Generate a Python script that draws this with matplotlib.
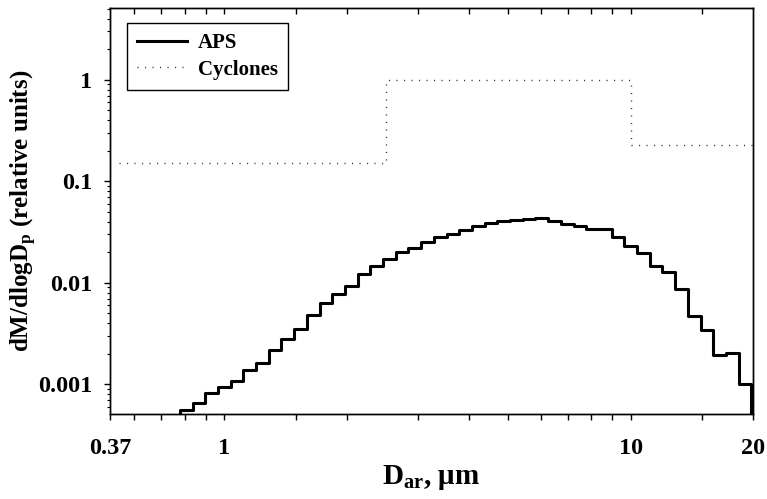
import numpy as np
import matplotlib
matplotlib.use("Agg")
from matplotlib import pyplot as plt
from matplotlib.ticker import FixedLocator, NullFormatter

plt.rcParams['font.family'] = ['Liberation Serif', 'DejaVu Serif']
plt.rcParams['font.weight'] = 'bold'
plt.rcParams['axes.labelweight'] = 'bold'
plt.rcParams['mathtext.fontset'] = 'custom'
plt.rcParams['mathtext.rm'] = 'Liberation Serif:bold'
plt.rcParams['mathtext.it'] = 'Liberation Serif:bold:italic'
plt.rcParams['mathtext.bf'] = 'Liberation Serif:bold'

# APS channel midpoints (um) and dM/dlogDp level starting at each one
aps_d = [0.723, 0.777, 0.835, 0.898, 0.965, 1.037, 1.114, 1.197, 1.286, 1.382,
         1.486, 1.596, 1.715, 1.843, 1.981, 2.129, 2.288, 2.458, 2.642, 2.839,
         3.051, 3.278, 3.523, 3.786, 4.068, 4.371, 4.698, 5.048, 5.425, 5.829,
         6.264, 6.732, 7.234, 7.774, 8.354, 8.977, 9.647, 10.37, 11.14, 11.97,
         12.86, 13.82, 14.86, 15.96, 17.15, 18.43, 19.81]
aps_m = [0.0003, 0.00056, 0.00066, 0.00082, 0.00095, 0.00107, 0.00139, 0.00164, 0.0022, 0.0028,
         0.0035, 0.0048, 0.0063, 0.0078, 0.0093, 0.0123, 0.0147, 0.0171, 0.0199, 0.0220,
         0.0255, 0.0286, 0.0302, 0.0333, 0.0365, 0.0387, 0.0402, 0.0417, 0.0424, 0.0431,
         0.0402, 0.0381, 0.0367, 0.0338, 0.0338, 0.0280, 0.0233, 0.0196, 0.0145, 0.0129,
         0.0087, 0.00466, 0.00344, 0.00195, 0.00203, 0.00101, 0.0003]

# cyclone stages: cut points and level
cyc_d = [0.55, 2.5, 10, 20]
cyc_m = [0.152, 1.0, 0.229, 0.229]

xmin, xmax = 0.523, 20
ymin, ymax = 0.00051, 5.1

fig = plt.figure(figsize=(7.67, 4.99), dpi=100)
ax = fig.add_axes([0.1434, 0.1703, 0.9817 - 0.1434, 0.984 - 0.1703])

ax.plot(aps_d, aps_m, drawstyle='steps-post', color='black', lw=2.2, label='APS')
ax.plot(cyc_d, cyc_m, drawstyle='steps-post', color='#333333', lw=1.0,
        linestyle=(0, (0.8, 4.6)), label='Cyclones')

ax.set_xscale('log')
ax.set_yscale('log')
ax.set_xlim(xmin, xmax)
ax.set_ylim(ymin, ymax)

ax.xaxis.set_major_locator(FixedLocator([xmin, 1, 10, 20]))
ax.set_xticklabels(['0.37', '1', '10', '20'])
xminor = [0.6, 0.7, 0.8, 0.9, 1.5, 2, 3, 4, 5, 6, 7, 8, 9, 15]
ax.xaxis.set_minor_locator(FixedLocator(xminor))
ax.xaxis.set_minor_formatter(NullFormatter())

ax.yaxis.set_major_locator(FixedLocator([0.001, 0.01, 0.1, 1]))
ax.set_yticklabels(['0.001', '0.01', '0.1', '1'])
yminor = [s * 10.0 ** e for e in range(-4, 1) for s in range(2, 10)]
ax.yaxis.set_minor_locator(FixedLocator(yminor))
ax.yaxis.set_minor_formatter(NullFormatter())

ax.tick_params(axis='x', which='both', direction='out', length=4, width=1,
               labelsize=17.5, pad=13, top=False)
ax.tick_params(axis='y', which='major', direction='out', length=4, width=1,
               labelsize=17.5, pad=9, right=False)
ax.tick_params(axis='y', which='minor', direction='out', length=2.5, width=0.8, right=False)

# top axis with inward ticks
top = ax.twiny()
top.set_xscale('log')
top.set_xlim(xmin, xmax)
top.xaxis.set_major_locator(FixedLocator([1, 10]))
top.xaxis.set_minor_locator(FixedLocator(xminor))
top.xaxis.set_major_formatter(NullFormatter())
top.xaxis.set_minor_formatter(NullFormatter())
top.tick_params(axis='x', which='both', direction='in', length=4, width=1)

for a in (ax, top):
    for s in a.spines.values():
        s.set_linewidth(1.0)
        s.set_color('black')

ax.set_xlabel(r'$\mathrm{D_{ar}}$, μm', fontsize=21, labelpad=3)
ax.set_ylabel(r'dM/dlog$\mathrm{D_p}$ (relative units)', fontsize=18, labelpad=-1)

leg = ax.legend(loc='upper left', bbox_to_anchor=(0.0264, 0.963), borderaxespad=0,
                prop={'size': 15, 'weight': 'bold'},
                frameon=True, fancybox=False, edgecolor='black', framealpha=1,
                handlelength=2.4, handletextpad=0.5, borderpad=0.5, labelspacing=0.3)
leg.get_frame().set_linewidth(1.0)

fig.savefig('out.png', dpi=100)
